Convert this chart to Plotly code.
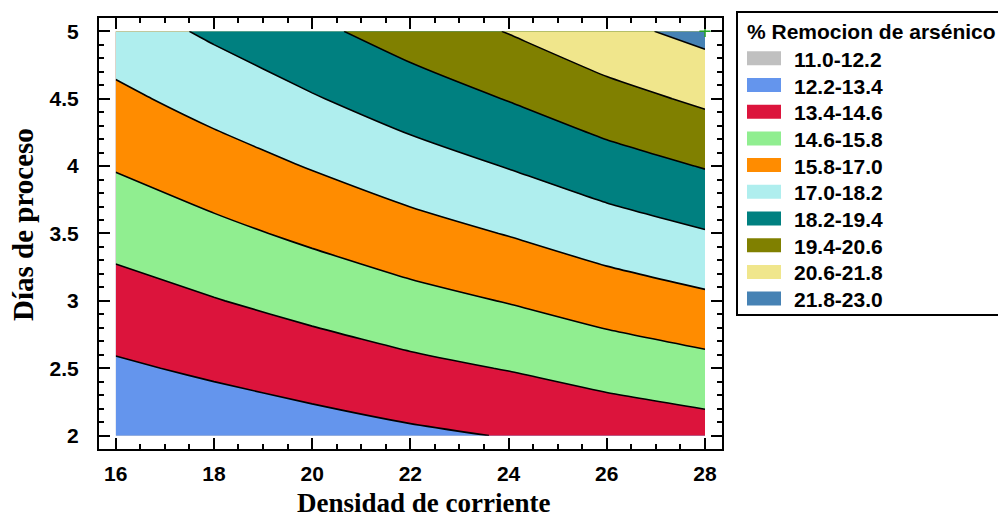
import plotly.graph_objects as go

# ---- data ----
densidad = [16, 18, 20, 22, 24, 26, 28]          # x: Densidad de corriente
dias = [2.0, 2.5, 3.0, 3.5, 4.0, 4.5, 5.0]        # y: Días de proceso
remocion = [                                      # z: % Remocion (rows = dias)
    [12.36, 12.63, 12.91, 13.20, 13.45, 13.78, 14.07],
    [13.24, 13.59, 13.95, 14.32, 14.65, 15.06, 15.42],
    [14.12, 14.55, 14.99, 15.44, 15.85, 16.34, 16.77],
    [15.00, 15.51, 16.03, 16.56, 17.05, 17.62, 18.12],
    [15.88, 16.47, 17.07, 17.68, 18.25, 18.90, 19.46],
    [16.75, 17.43, 18.11, 18.80, 19.45, 20.18, 20.81],
    [17.63, 18.39, 19.15, 19.92, 20.65, 21.46, 22.16],
]
level_start, level_end, level_step = 11.0, 23.0, 1.2
band_labels = ["11.0-12.2", "12.2-13.4", "13.4-14.6", "14.6-15.8", "15.8-17.0",
               "17.0-18.2", "18.2-19.4", "19.4-20.6", "20.6-21.8", "21.8-23.0"]
band_colors = ["#C0C0C0", "#6495ED", "#DC143C", "#90EE90", "#FF8C00",
               "#AFEEEE", "#008080", "#808000", "#F0E68C", "#4682B4"]
optimo_x = [28]
optimo_y = [5]
x_title = "Densidad de corriente"
y_title = "Días de proceso"
legend_title = "% Remocion de arsénico"

# ---- figure geometry (page body adds an 8px offset) ----
OFF = 8
W, H = 1006 - OFF, 518 - OFF
ML, MR, MT, MB = 99 - OFF, 284, 18 - OFF, 69
PW, PH = W - ML - MR, H - MT - MB


def px(x):
    return (x - OFF - ML) / PW


def py(y):
    return (H - MB - (y - OFF)) / PH


# discrete colorscale (fill colour of each band is taken at band midpoint)
full = [band_colors[0]] + band_colors + [band_colors[-1]]
n = len(full) - 1
cscale = []
for j, c in enumerate(full):
    lo = max(0.0, (j - 0.5) / n)
    hi = min(1.0, (j + 0.5) / n)
    cscale += [[lo, c], [hi, c]]

fig = go.Figure()
fig.add_trace(go.Contour(
    x=densidad, y=dias, z=remocion,
    autocontour=False,
    contours=dict(start=level_start, end=level_end, size=level_step,
                  coloring="fill", showlines=True),
    colorscale=cscale, showscale=False,
    line=dict(color="black", width=1.6, smoothing=0.5),
    hoverinfo="skip",
))
fig.add_trace(go.Scatter(
    x=optimo_x, y=optimo_y, mode="markers", showlegend=False,
    marker=dict(symbol="cross-thin", size=8, line=dict(color="#22a022", width=1.5)),
    cliponaxis=False, hoverinfo="skip",
))

tickfont = dict(family="Liberation Sans, Arial", size=21, color="black", weight=700)
sans = "Liberation Sans, Arial"
serif = "Liberation Serif, Times New Roman"

fig.update_xaxes(
    range=[15.66, 28.346], tick0=16, dtick=2, automargin=False,
    ticks="inside", ticklen=11, tickwidth=1.5, tickcolor="black",
    minor=dict(dtick=0.5, ticks="inside", ticklen=5, tickwidth=1.5, tickcolor="black"),
    showline=True, linewidth=2, linecolor="black", mirror="ticks",
    showgrid=False, zeroline=False, tickfont=tickfont, ticklabelstandoff=5,
)
fig.update_yaxes(
    range=[1.901, 5.0987], tick0=2, dtick=0.5, automargin=False,
    ticks="inside", ticklen=11, tickwidth=1.5, tickcolor="black",
    minor=dict(dtick=0.1, ticks="inside", ticklen=5, tickwidth=1.5, tickcolor="black"),
    showline=True, linewidth=2, linecolor="black", mirror="ticks",
    showgrid=False, zeroline=False, tickfont=tickfont, ticklabelstandoff=14,
)

annotations = [
    dict(text=x_title, xref="paper", yref="paper", x=px(423), y=py(503),
         xanchor="center", yanchor="middle", showarrow=False,
         font=dict(family=serif, size=27, color="black", weight=700)),
    dict(text=y_title, xref="paper", yref="paper", x=px(23), y=py(225),
         xanchor="center", yanchor="middle", showarrow=False, textangle=-90,
         font=dict(family=serif, size=29, color="black", weight=700)),
]

# ---- legend drawn as shapes + text ----
shapes = [dict(type="rect", xref="paper", yref="paper",
               x0=px(737), x1=px(1016), y0=py(12), y1=py(315),
               line=dict(color="black", width=2), fillcolor="white", layer="below")]
annotations.append(dict(text=legend_title, xref="paper", yref="paper",
                        x=px(745), y=py(32), xanchor="left", yanchor="middle",
                        showarrow=False,
                        font=dict(family=sans, size=21, color="black", weight=700)))
for k, (lab, col) in enumerate(zip(band_labels, band_colors)):
    cy = 58.3 + 26.7 * k
    shapes.append(dict(type="rect", xref="paper", yref="paper",
                       x0=px(747), x1=px(781), y0=py(cy - 7), y1=py(cy + 7),
                       line=dict(width=0), fillcolor=col))
    annotations.append(dict(text=lab, xref="paper", yref="paper",
                            x=px(792), y=py(cy + 1), xanchor="left", yanchor="middle",
                            showarrow=False,
                            font=dict(family=sans, size=21, color="black", weight=700)))

fig.update_layout(
    width=W, height=H,
    margin=dict(l=ML, r=MR, t=MT, b=MB, pad=0),
    paper_bgcolor="white", plot_bgcolor="white",
    showlegend=False, shapes=shapes, annotations=annotations,
)
fig.write_html("out.html")
